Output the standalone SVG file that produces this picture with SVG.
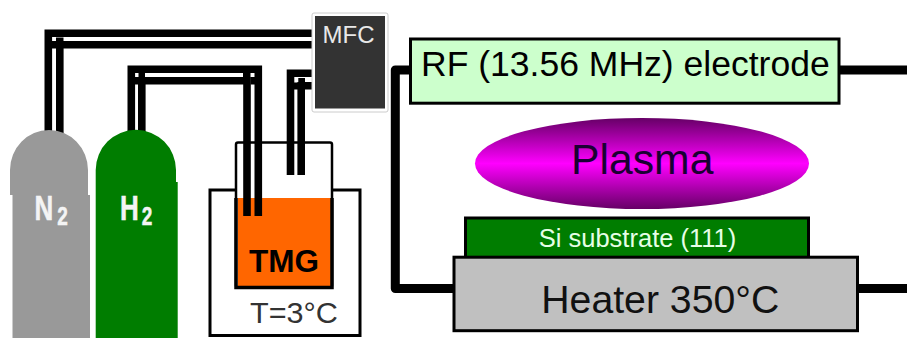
<svg xmlns="http://www.w3.org/2000/svg" width="907" height="338" viewBox="0 0 907 338">
<style>
text{font-family:"Liberation Sans",Arial,sans-serif}
.pipe{fill:none;stroke:#000;stroke-width:7.6;stroke-linejoin:miter}
.patch{fill:#000}
.wire{fill:none;stroke:#000;stroke-width:9;stroke-linejoin:round}
.box{stroke:#000;stroke-width:3}
.gas{font-weight:bold;font-size:26px;fill:#f4f4f4;stroke:#f4f4f4;stroke-width:.4}
</style>
<defs>
<linearGradient id="plasmaFill" x1="0" y1="0" x2="0" y2="1">
<stop offset="0" stop-color="#660066"/><stop offset="0.5" stop-color="#ff00ff"/><stop offset="1" stop-color="#660066"/>
</linearGradient>
</defs>
<g id="bath"><rect x="210" y="190" width="150" height="145.500" fill="#fff" stroke="#000" stroke-width="3"/></g>
<g id="vessel">
<rect x="236" y="142.500" width="96" height="145" rx="2" fill="#fff" stroke="#000" stroke-width="2.500"/>
<path d="M238,198H331V287H238Z" fill="#ff6600"/>
<path d="M236,198V287.500H332V198" fill="none" stroke="#000" stroke-width="3.500"/>
<text x="249" y="271.500" font-size="31.500" font-weight="bold" fill="#000" textLength="70" lengthAdjust="spacingAndGlyphs">TMG</text>
</g>
<g id="bath-label"><text x="250" y="322.500" font-size="30" fill="#333" textLength="88" lengthAdjust="spacingAndGlyphs">T=3°C</text></g>
<g id="connectors">
<path class="pipe" d="M48.300,133V33.300H312"/>
<path class="pipe" d="M59.800,133V44.800H312"/>
<path class="patch" d="M56,37.500H63.500V41H56ZM52,41H56V48.500H52Z"/>
<path class="pipe" d="M131.300,133V69.300H258.300V216"/>
<path class="pipe" d="M141.800,133V80.800H247V216"/>
<path class="patch" d="M138.500,73H145V77H138.500ZM134.500,77H138.500V84.500H134.500ZM243,73H250.500V77H243ZM250.500,77H255V84.500H250.500Z"/>
<path class="pipe" d="M290.500,175V73.300H312"/>
<path class="pipe" d="M301.200,175V85.700H312"/>
<path class="patch" d="M298.300,78H305V82.500H298.300ZM294,82.500H298.300V89.500H294Z"/>
<path class="wire" d="M410,70H395.300V288.500H453"/>
<path class="wire" d="M839,70H907"/>
<path class="wire" d="M858,288.500H907"/>
</g>
<g id="n2">
<path d="M10,195V170A39,40 0 0 1 88,170V195H90V338H12.500V195Z" fill="#999"/>
<text class="gas" transform="translate(34.500,220) scale(1,1.35)">N<tspan font-size="19" dx="4" dy="3.500">2</tspan></text>
</g>
<g id="h2">
<path d="M95.700,338V170A40,40 0 0 1 176,170V182H177.700V338Z" fill="#007d00"/>
<text class="gas" transform="translate(120,220) scale(1,1.35)">H<tspan font-size="19" dx="3" dy="3.500">2</tspan></text>
</g>
<g id="mfc">
<rect x="312" y="13" width="76" height="99" rx="2" fill="#fff" stroke="#ccc" stroke-width="1"/>
<rect x="315" y="16" width="70" height="92.500" fill="#333"/>
<text x="322.500" y="42.500" font-size="24" fill="#e8e8e8" textLength="52" lengthAdjust="spacingAndGlyphs">MFC</text>
</g>
<g id="rf-electrode">
<rect class="box" x="410.500" y="39" width="428.500" height="64.200" fill="#ccffcc"/>
<text x="421" y="76.300" font-size="35.500" fill="#000" textLength="408.700" lengthAdjust="spacingAndGlyphs">RF (13.56 MHz) electrode</text>
</g>
<g id="plasma">
<ellipse cx="642" cy="163.500" rx="167" ry="45.500" fill="url(#plasmaFill)"/>
<text x="571" y="174" font-size="43" fill="#1a0033" textLength="142.400" lengthAdjust="spacingAndGlyphs">Plasma</text>
</g>
<g id="substrate">
<rect class="box" x="465.500" y="218" width="343" height="42" fill="#007d00"/>
<text x="538.700" y="247.300" font-size="25" fill="#e6ffe6" textLength="197.600" lengthAdjust="spacingAndGlyphs">Si substrate (111)</text>
</g>
<g id="heater">
<rect class="box" x="454" y="257.200" width="403.500" height="73.500" fill="#c0c0c0"/>
<text x="541.300" y="312.700" font-size="38.500" fill="#111" textLength="238" lengthAdjust="spacingAndGlyphs">Heater 350°C</text>
</g>
</svg>
